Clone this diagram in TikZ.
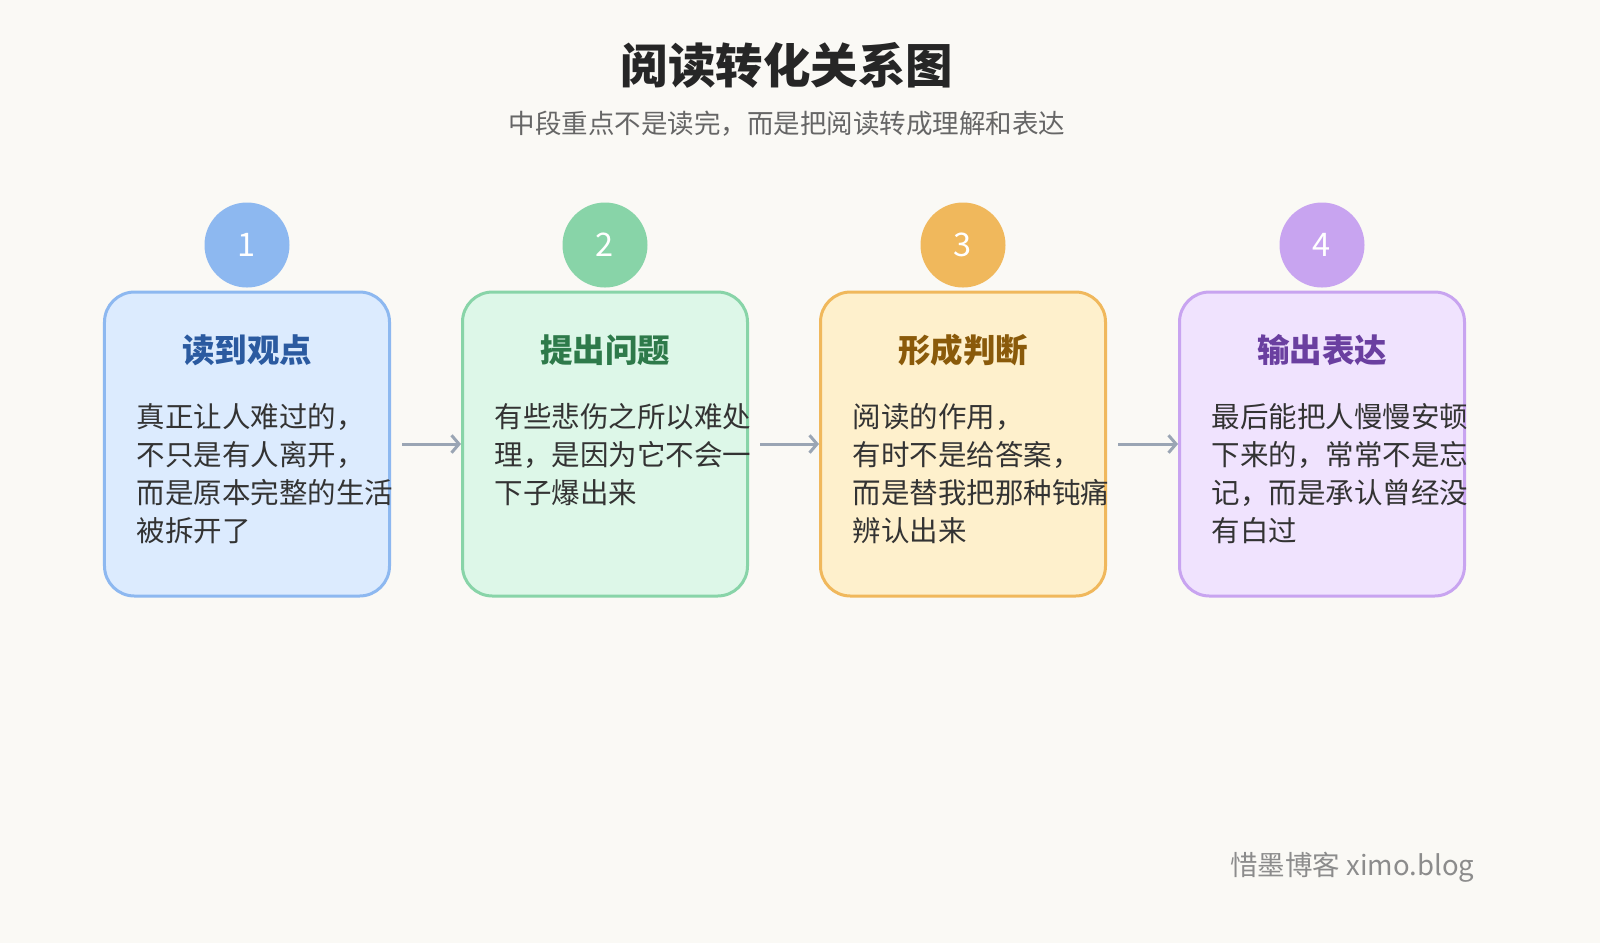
\documentclass[tikz,border=0pt]{standalone}
\usepackage{fontspec}
\setmainfont{Noto Sans CJK SC}
\usetikzlibrary{arrows.meta}
\definecolor{bg}{HTML}{FAF9F5}
\definecolor{fa}{HTML}{DCEBFE}\definecolor{sa}{HTML}{8DB8F0}\definecolor{ta}{HTML}{2B5AA0}
\definecolor{fb}{HTML}{DDF7E8}\definecolor{sb}{HTML}{88D4A8}\definecolor{tb}{HTML}{2E7A4A}
\definecolor{fc}{HTML}{FEF0CC}\definecolor{sc}{HTML}{F0B85C}\definecolor{tc}{HTML}{8A5A0A}
\definecolor{fd}{HTML}{F0E3FE}\definecolor{sd}{HTML}{C8A4F0}\definecolor{td}{HTML}{6A3FA0}
\definecolor{arr}{HTML}{9AA5B4}
\tikzset{
 card/.style={draw=#1,line width=1.2pt,rounded corners=12pt,minimum width=114pt,minimum height=121.6pt,inner sep=0pt},
 badge/.style={circle,fill=#1,minimum size=34pt,inner sep=0pt,text=white,font=\fontsize{13}{13}\selectfont},
 ctitle/.style={font=\fontsize{13}{13}\selectfont\bfseries,text=#1},
 body/.style={anchor=north west,align=left,inner sep=0pt,text=black!80,font=\fontsize{11.4}{15.2}\selectfont},
 conn/.style={draw=arr,line width=1.2pt,-{Straight Barb[length=3pt,width=7pt]}}
}
\begin{document}
\begin{tikzpicture}[x=0.4pt,y=-0.4pt]
\fill[bg] (0,0) rectangle (1600,943);
\useasboundingbox (0,0) rectangle (1600,943);
\node[font=\fontsize{19}{19}\selectfont\bfseries,text=black!85] (title) at (787,65) {阅读转化关系图};
\node[font=\fontsize{10.6}{10.6}\selectfont,text=black!60] (sub) at (787,124) {中段重点不是读完，而是把阅读转成理解和表达};
\foreach \i/\x/\n/\t/\c in {a/247/1/读到观点/a, b/605/2/提出问题/b, c/963/3/形成判断/c, d/1322/4/输出表达/d}{
  \node[card=s\c,fill=f\c] (box\i) at (\x,444) {};
  \node[badge=s\c] (num\i) at (\x,245) {\n};
  \node[ctitle=t\c] (t\i) at (\x,350) {\t};
}
\node[body] (ba) at (136,403) {真正让人难过的，\\不只是有人离开，\\而是原本完整的生活\\被拆开了};
\node[body] (bb) at (494,403) {有些悲伤之所以难处\\理，是因为它不会一\\下子爆出来};
\node[body] (bc) at (852,403) {阅读的作用，\\有时不是给答案，\\而是替我把那种钝痛\\辨认出来};
\node[body] (bd) at (1211,403) {最后能把人慢慢安顿\\下来的，常常不是忘\\记，而是承认曾经没\\有白过};
\draw[conn] ([xshift=4.4pt]boxa.east) -- (boxb.west);
\draw[conn] ([xshift=4.4pt]boxb.east) -- (boxc.west);
\draw[conn] ([xshift=4.4pt]boxc.east) -- (boxd.west);
\node[anchor=east,font=\fontsize{11}{11}\selectfont,text=black!45] (wm) at (1483,867) {惜墨博客 ximo.blog};
\end{tikzpicture}
\end{document}
